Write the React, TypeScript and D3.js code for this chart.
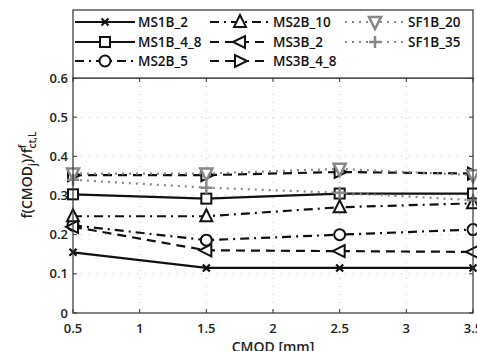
import * as d3 from 'd3';

const cmod = [0.5, 1.5, 2.5, 3.5];
const ms1b2 = [0.155, 0.115, 0.115, 0.115];
const ms1b48 = [0.303, 0.292, 0.305, 0.305];
const ms2b5 = [0.224, 0.186, 0.2, 0.213];
const ms2b10 = [0.247, 0.247, 0.27, 0.28];
const ms3b2 = [0.22, 0.16, 0.158, 0.156];
const ms3b48 = [0.352, 0.352, 0.36, 0.356];
const sf1b20 = [0.356, 0.356, 0.368, 0.352];
const sf1b35 = [0.34, 0.32, 0.307, 0.288];

const xTicks = [0.5, 1, 1.5, 2, 2.5, 3, 3.5];
const yTicks = [0, 0.1, 0.2, 0.3, 0.4, 0.5, 0.6];

type Marker = 'x' | 'square' | 'circle' | 'up' | 'left' | 'right' | 'down' | 'plus';

const series: { name: string; values: number[]; marker: Marker; dash: string; color: string }[] = [
  { name: 'MS1B_2', values: ms1b2, marker: 'x', dash: '', color: '#111' },
  { name: 'MS1B_4_8', values: ms1b48, marker: 'square', dash: '', color: '#111' },
  { name: 'MS2B_5', values: ms2b5, marker: 'circle', dash: '9,5,2,5', color: '#111' },
  { name: 'MS2B_10', values: ms2b10, marker: 'up', dash: '9,5,2,5', color: '#111' },
  { name: 'MS3B_2', values: ms3b2, marker: 'left', dash: '9,6', color: '#111' },
  { name: 'MS3B_4_8', values: ms3b48, marker: 'right', dash: '9,6', color: '#111' },
  { name: 'SF1B_20', values: sf1b20, marker: 'down', dash: '2,5', color: '#888' },
  { name: 'SF1B_35', values: sf1b35, marker: 'plus', dash: '2,5', color: '#888' },
];

const W = 477;
const H = 351;
const left = 73;
const right = 473;
const top = 78;
const bottom = 313;

const font = "'Open Sans', 'DejaVu Sans', sans-serif";

function MarkerShape({ kind, x, y, color }: { kind: Marker; x: number; y: number; color: string }) {
  const common = { fill: 'white', stroke: color, strokeWidth: 2 };
  const s = 5;
  switch (kind) {
    case 'x':
      return (
        <path d={`M${x - 3.5},${y - 3.5}L${x + 3.5},${y + 3.5}M${x - 3.5},${y + 3.5}L${x + 3.5},${y - 3.5}`} stroke={color} strokeWidth={2.2} />
      );
    case 'square':
      return <rect x={x - s} y={y - s} width={2 * s} height={2 * s} {...common} />;
    case 'circle':
      return <circle cx={x} cy={y} r={s + 0.5} {...common} />;
    case 'up':
      return <path d={`M${x},${y - 7}L${x + 6},${y + 5}L${x - 6},${y + 5}Z`} {...common} />;
    case 'down':
      return <path d={`M${x},${y + 7}L${x + 6},${y - 5}L${x - 6},${y - 5}Z`} {...common} strokeWidth={2.5} />;
    case 'left':
      return <path d={`M${x - 7},${y}L${x + 5},${y - 6}L${x + 5},${y + 6}Z`} {...common} />;
    case 'right':
      return <path d={`M${x + 7},${y}L${x - 5},${y - 6}L${x - 5},${y + 6}Z`} {...common} />;
    case 'plus':
      return <path d={`M${x - 6},${y}L${x + 6},${y}M${x},${y - 6}L${x},${y + 6}`} stroke={color} strokeWidth={2.5} />;
  }
}

export default function App() {
  const x = d3.scaleLinear().domain([0.5, 3.5]).range([left, right]);
  const y = d3.scaleLinear().domain([0, 0.6]).range([bottom, top]);
  const line = d3
    .line<number>()
    .x((_, i) => x(cmod[i]))
    .y((v) => y(v));

  // legend layout: 3 columns
  const legendCols = [75, 210, 345];
  const legendRows = [22, 42, 61];
  const legendPos = [
    [0, 0], [0, 1], [0, 2], [1, 0], [1, 1], [1, 2], [2, 0], [2, 1],
  ];

  return (
    <svg width={W} height={H} style={{ position: 'absolute', left: 0, top: 0, background: 'white' }} fontFamily={font}>
      <rect x={0} y={0} width={W} height={H} fill="white" />
      {/* grid */}
      {xTicks.slice(1, -1).map((t) => (
        <line key={'gx' + t} x1={x(t)} x2={x(t)} y1={top} y2={bottom} stroke="#bbb" strokeDasharray="1,7" />
      ))}
      {yTicks.slice(1, -1).map((t) => (
        <line key={'gy' + t} x1={left} x2={right} y1={y(t)} y2={y(t)} stroke="#bbb" strokeDasharray="1,7" />
      ))}
      {/* ticks */}
      {xTicks.map((t) => (
        <g key={'tx' + t}>
          <line x1={x(t)} x2={x(t)} y1={bottom} y2={bottom - 4} stroke="#333" />
          <line x1={x(t)} x2={x(t)} y1={top} y2={top + 4} stroke="#333" />
          <text x={x(t)} y={333} textAnchor="middle" fontSize={13} fontWeight={600} fill="#222">
            {t}
          </text>
        </g>
      ))}
      {yTicks.map((t) => (
        <g key={'ty' + t}>
          <line x1={left} x2={left + 4} y1={y(t)} y2={y(t)} stroke="#333" />
          <line x1={right} x2={right - 4} y1={y(t)} y2={y(t)} stroke="#333" />
          <text x={68} y={y(t) + 4.5} textAnchor="end" fontSize={13} fontWeight={600} fill="#222">
            {t === 0 ? '0' : t.toFixed(1)}
          </text>
        </g>
      ))}
      {/* series */}
      {series.map((s) => (
        <g key={s.name}>
          <path d={line(s.values) ?? ''} fill="none" stroke={s.color} strokeWidth={2.2} strokeDasharray={s.dash || undefined} />
          {s.values.map((v, i) => (
            <MarkerShape key={i} kind={s.marker} x={x(cmod[i])} y={y(v)} color={s.color} />
          ))}
        </g>
      ))}
      {/* axes box */}
      <rect x={left} y={top} width={right - left} height={bottom - top} fill="none" stroke="#333" strokeWidth={1.2} />
      {/* legend */}
      <rect x={left} y={10} width={right - left} height={top - 10} fill="white" stroke="#333" strokeWidth={1.2} />
      {series.map((s, i) => {
        const [c, r] = legendPos[i];
        const lx = legendCols[c];
        const ly = legendRows[r];
        return (
          <g key={'lg' + s.name}>
            <line x1={lx} x2={lx + 60} y1={ly} y2={ly} stroke={s.color} strokeWidth={2.2} strokeDasharray={s.dash || undefined} />
            <MarkerShape kind={s.marker} x={lx + 30} y={ly} color={s.color} />
            <text x={lx + 63} y={ly + 5} fontSize={13.5} fontWeight={600} fill="#111">
              {s.name}
            </text>
          </g>
        );
      })}
      {/* axis labels */}
      <text x={(left + right) / 2} y={352} textAnchor="middle" fontSize={14} fontWeight={600} fill="#222">
        CMOD [mm]
      </text>
      <text transform="translate(32,175) rotate(-90)" textAnchor="middle" fontSize={14} fontWeight={600} fill="#222">
        f(CMOD<tspan fontSize={10} dy={4}>j</tspan>
        <tspan dy={-4}>)/f</tspan>
        <tspan fontSize={10} dy={-6}>f</tspan>
        <tspan fontSize={10} dy={10} dx={-4}>ct,L</tspan>
      </text>
    </svg>
  );
}
